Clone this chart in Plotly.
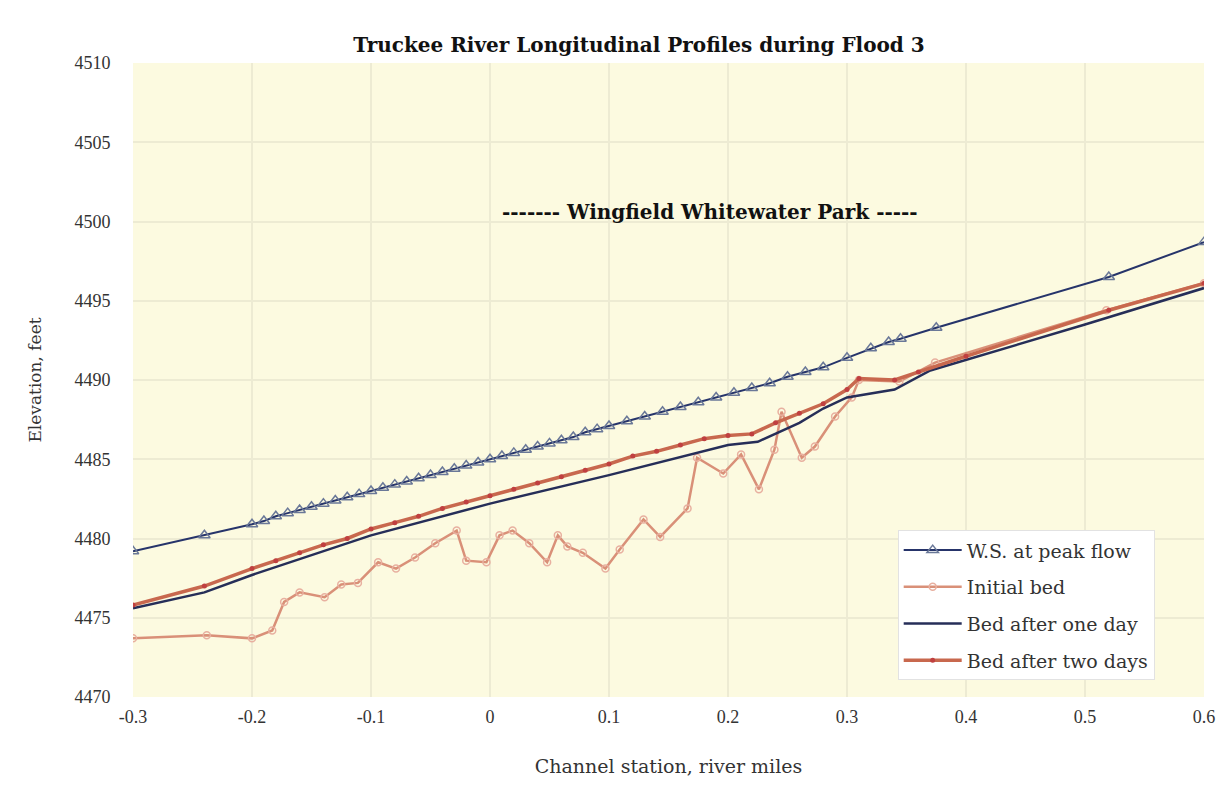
import plotly.graph_objects as go

# ---- data ----
ws_x = [-0.3, -0.24, -0.2, -0.19, -0.18, -0.17, -0.16, -0.15, -0.14, -0.13, -0.12, -0.11,
        -0.1, -0.09, -0.08, -0.07, -0.06, -0.05, -0.04, -0.03, -0.02, -0.01, 0.0, 0.01,
        0.02, 0.03, 0.04, 0.05, 0.06, 0.07, 0.08, 0.09, 0.1, 0.115, 0.13, 0.145, 0.16,
        0.175, 0.19, 0.205, 0.22, 0.235, 0.25, 0.265, 0.28, 0.3, 0.32, 0.335, 0.345,
        0.375, 0.52, 0.6]
ws_y = [4479.2, 4480.2, 4480.9, 4481.1, 4481.4, 4481.6, 4481.8, 4482.0, 4482.2, 4482.4,
        4482.6, 4482.8, 4483.0, 4483.2, 4483.4, 4483.6, 4483.8, 4484.0, 4484.2, 4484.4,
        4484.6, 4484.8, 4485.0, 4485.2, 4485.4, 4485.6, 4485.8, 4486.0, 4486.2, 4486.4,
        4486.7, 4486.9, 4487.1, 4487.4, 4487.7, 4488.0, 4488.3, 4488.6, 4488.9, 4489.2,
        4489.5, 4489.8, 4490.2, 4490.5, 4490.8, 4491.4, 4492.0, 4492.4, 4492.6, 4493.3,
        4496.5, 4498.7]

init_x = [-0.3, -0.238, -0.2, -0.183, -0.173, -0.16, -0.139, -0.125, -0.111, -0.094,
          -0.079, -0.063, -0.046, -0.028, -0.02, -0.003, 0.008, 0.019, 0.033, 0.048,
          0.057, 0.065, 0.078, 0.097, 0.109, 0.129, 0.143, 0.166, 0.174, 0.196, 0.211,
          0.226, 0.239, 0.245, 0.262, 0.273, 0.29, 0.304, 0.31, 0.344, 0.374, 0.518, 0.6]
init_y = [4473.7, 4473.9, 4473.7, 4474.2, 4476.0, 4476.6, 4476.3, 4477.1, 4477.2, 4478.5,
          4478.1, 4478.8, 4479.7, 4480.5, 4478.6, 4478.5, 4480.2, 4480.5, 4479.7, 4478.5,
          4480.2, 4479.5, 4479.1, 4478.1, 4479.3, 4481.2, 4480.1, 4481.9, 4485.1, 4484.1,
          4485.3, 4483.1, 4485.6, 4488.0, 4485.1, 4485.8, 4487.7, 4488.9, 4490.0, 4489.9,
          4491.1, 4494.4, 4496.1]

day1_x = [-0.3, -0.24, -0.2, -0.1, 0.0, 0.1, 0.2, 0.225, 0.26, 0.28, 0.3, 0.34, 0.37, 0.5, 0.6]
day1_y = [4475.6, 4476.6, 4477.7, 4480.2, 4482.2, 4484.0, 4485.9, 4486.1, 4487.3, 4488.2,
          4488.9, 4489.4, 4490.6, 4493.5, 4495.8]

day2_x = [-0.3, -0.24, -0.2, -0.18, -0.16, -0.14, -0.12, -0.1, -0.08, -0.06, -0.04, -0.02,
          0.0, 0.02, 0.04, 0.06, 0.08, 0.1, 0.12, 0.14, 0.16, 0.18, 0.2, 0.22, 0.24, 0.26,
          0.28, 0.3, 0.31, 0.34, 0.36, 0.4, 0.52, 0.6]
day2_y = [4475.8, 4477.0, 4478.1, 4478.6, 4479.1, 4479.6, 4480.0, 4480.6, 4481.0, 4481.4,
          4481.9, 4482.3, 4482.7, 4483.1, 4483.5, 4483.9, 4484.3, 4484.7, 4485.2, 4485.5,
          4485.9, 4486.3, 4486.5, 4486.6, 4487.3, 4487.9, 4488.5, 4489.4, 4490.1, 4490.0,
          4490.5, 4491.5, 4494.4, 4496.1]

x_ticks = [-0.3, -0.2, -0.1, 0, 0.1, 0.2, 0.3, 0.4, 0.5, 0.6]
x_tick_text = ["-0.3", "-0.2", "-0.1", "0", "0.1", "0.2", "0.3", "0.4", "0.5", "0.6"]
y_ticks = [4470, 4475, 4480, 4485, 4490, 4495, 4500, 4505, 4510]

FONT = "Liberation Serif"
WIDE = "DejaVu Serif"

fig = go.Figure()
fig.add_trace(go.Scatter(
    x=ws_x, y=ws_y, name="W.S. at peak flow", mode="lines+markers", legendgroup="a",
    line=dict(color="#26346A", width=2),
    marker=dict(symbol="triangle-up-open", size=10, color="#6A7898", line=dict(width=1.5))))
fig.add_trace(go.Scatter(
    x=init_x, y=init_y, name="Initial bed", mode="lines+markers", legendgroup="b",
    line=dict(color="#D99078", width=2.5),
    marker=dict(symbol="circle-open", size=7, color="#E8B0A0", line=dict(width=1.5))))
fig.add_trace(go.Scatter(
    x=day1_x, y=day1_y, name="Bed after one day", mode="lines", legendgroup="c",
    line=dict(color="#262E58", width=2.5)))
fig.add_trace(go.Scatter(
    x=day2_x, y=day2_y, name="Bed after two days", mode="lines+markers", legendgroup="d",
    line=dict(color="#C8684E", width=3.5),
    marker=dict(symbol="circle", size=5, color="#C04040")))

fig.add_annotation(x=0.185, y=4500.6, xref="x", yref="y", showarrow=False,
                   text="<b>------- Wingfield Whitewater Park -----</b>",
                   font=dict(family=WIDE, size=20, color="#111111"))

fig.update_layout(
    width=1227, height=788,
    margin=dict(l=125, r=31, t=55, b=99),
    paper_bgcolor="white", plot_bgcolor="#FCFAE0",
    font=dict(family=FONT, size=18, color="#333333"),
    title=dict(text="<b>Truckee River Longitudinal Profiles during Flood 3</b>",
               x=631 / 1227, xref="container", y=1 - 37 / 788, yref="container",
               xanchor="center", yanchor="middle",
               font=dict(family=WIDE, size=20, color="#111111")),
    legend=dict(x=0.714, y=0.263, xanchor="left", yanchor="top",
                bgcolor="white", bordercolor="#E2E2E2", borderwidth=1,
                font=dict(family=WIDE, size=19, color="#333333"),
                itemwidth=58,
                traceorder="grouped", tracegroupgap=9),
    showlegend=True,
)
fig.update_xaxes(range=[-0.3, 0.6], tickvals=x_ticks, ticktext=x_tick_text,
                 showgrid=True, gridcolor="#EDEBD3", gridwidth=1.5, zeroline=False,
                 ticks="outside", ticklen=3, tickcolor="white",
                 title=dict(text="Channel station, river miles", standoff=34,
                            font=dict(family=WIDE, size=19, color="#333333")),
                 showline=False)
fig.update_yaxes(range=[4470, 4510], tickvals=y_ticks,
                 showgrid=True, gridcolor="#EDEBD3", gridwidth=1.5, zeroline=False,
                 ticks="outside", ticklen=18, tickcolor="white",
                 title=dict(text="Elevation, feet", standoff=28,
                            font=dict(family=WIDE, size=17, color="#333333")),
                 showline=False)

fig.write_html("out.html")
